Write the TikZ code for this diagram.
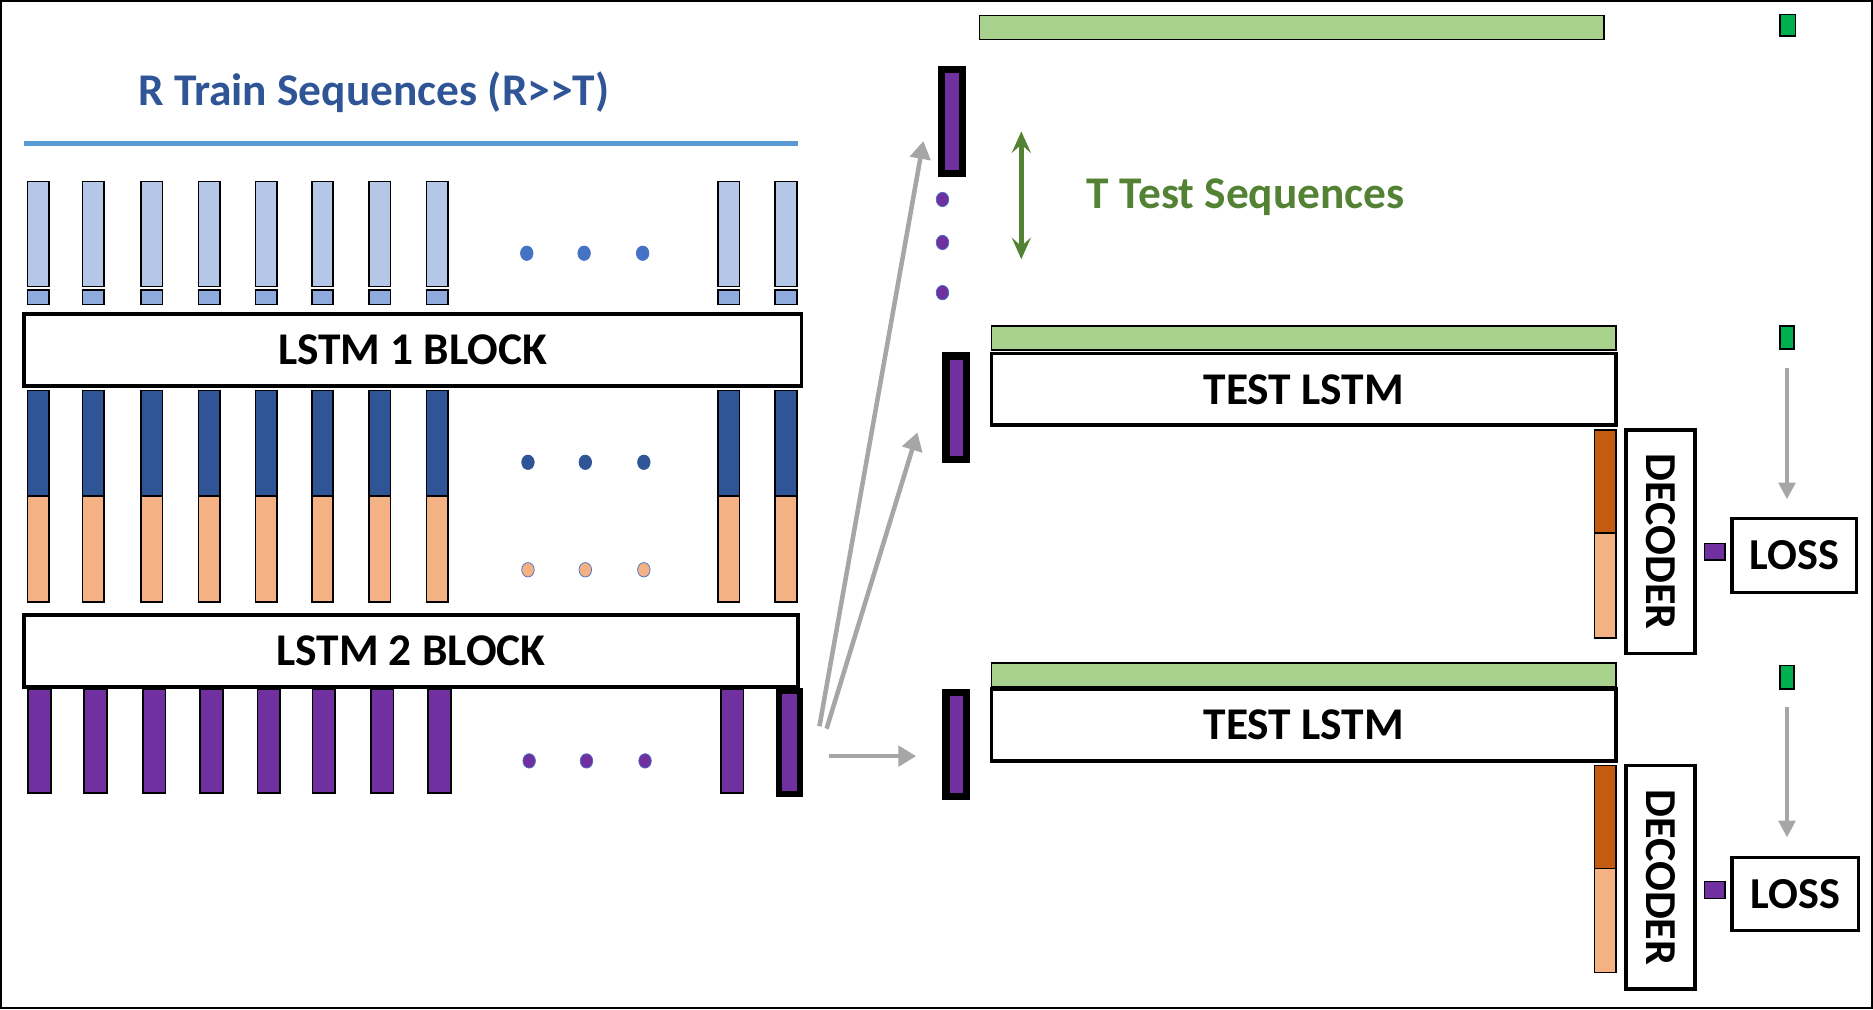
\documentclass[tikz,border=0pt]{standalone}
\usepackage{fontspec}
\setmainfont{Carlito}
\usetikzlibrary{arrows.meta}
\definecolor{clblue}{HTML}{B4C7E7}
\definecolor{cmblue}{HTML}{8FAADC}
\definecolor{cdblue}{HTML}{2F5597}
\definecolor{cpeach}{HTML}{F4B183}
\definecolor{cpurple}{HTML}{7030A0}
\definecolor{clgreen}{HTML}{A9D18E}
\definecolor{cgreen}{HTML}{00B050}
\definecolor{cdorange}{HTML}{C55A11}
\definecolor{cgrey}{HTML}{A6A6A6}
\definecolor{cdgreen}{HTML}{548235}
\definecolor{clineblue}{HTML}{5B9BD5}
\definecolor{cdot}{HTML}{4472C4}
\newcommand\mybox[7]{%
  \pgfmathsetmacro\bw{(#5)-(#3)}\pgfmathsetmacro\bh{(#6)-(#4)}%
  \pgfmathsetmacro\bcx{((#3)+(#5))/2}\pgfmathsetmacro\bcy{((#4)+(#6))/2}%
  \node[#2,minimum width=\bw pt,minimum height=\bh pt] (#1) at (\bcx,\bcy) {#7};}
\begin{document}
\begin{tikzpicture}[x=1pt,y=-1pt,
  tbar/.style={draw=black,line width=1.3pt,inner sep=0pt,outer sep=0pt},
  bigbox/.style={draw=black,line width=3pt,fill=white,inner sep=0pt,outer sep=0pt,
    font=\fontsize{38}{40}\selectfont\bfseries},
  tkbar/.style={draw=black,line width=6pt,fill=cpurple,inner sep=0pt,outer sep=0pt},
  dotn/.style={circle,inner sep=0pt,minimum size=10.5pt,yscale=1.15,draw=cdot,line width=0.6pt},
  garrow/.style={draw=cgrey,line width=3.8pt,-{Triangle[length=15pt,width=17pt]}},
  darrow/.style={draw=cgrey,line width=3pt,-{Triangle[length=14pt,width=14pt]}},
  lbl/.style={font=\fontsize{38}{40}\selectfont\bfseries,inner sep=0pt}
]
\useasboundingbox (0,0) rectangle (1568,845);
\draw[line width=2pt] (1,1) rectangle (1567,844);

% title and rule
\node[lbl,text=cdblue] (title) at (313,77) {R Train Sequences (R>{}>T)};
\coordinate (rulea) at (20,120);
\coordinate (ruleb) at (668,120);
\draw[clineblue,line width=4pt] (rulea) -- (ruleb);

% columns
\foreach \i/\x in {1/32,2/78,3/127,4/175,5/223,6/270,7/318,8/366,9/610,10/658}{
  \mybox{in\i}{tbar,fill=clblue}{\x-9}{152}{\x+9}{240}{}
  \mybox{sq\i}{tbar,fill=cmblue}{\x-9}{243}{\x+9}{255}{}
  \mybox{hb\i}{tbar,fill=cdblue}{\x-9}{327}{\x+9}{415}{}
  \mybox{hp\i}{tbar,fill=cpeach}{\x-9}{415}{\x+9}{504}{}
}
\foreach \i/\x in {1/33,2/80,3/129,4/177,5/225,6/271,7/320,8/368,9/613}{
  \mybox{pb\i}{tbar,fill=cpurple}{\x-9.5}{577}{\x+9.5}{664}{}
}
\mybox{pb10}{draw=black,line width=5pt,fill=cpurple,inner sep=0pt,outer sep=0pt}{652.5}{578.5}{669.5}{664.5}{}

% LSTM blocks
\mybox{lstma}{bigbox}{20}{263}{671}{323}{LSTM 1 BLOCK}
\mybox{lstmb}{bigbox}{20}{515}{668}{575}{LSTM 2 BLOCK}

% dots
\foreach \j/\x in {1/441,2/489,3/538}{
  \node[dotn,fill=cdot] (da\j) at (\x,212) {};
  \node[dotn,fill=cdblue,draw=cdblue] (db\j) at (\x+1,387) {};
  \node[dotn,fill=cpeach] (dc\j) at (\x+1,477) {};
  \node[dotn,fill=cpurple] (dd\j) at (\x+2,637) {};
}
\foreach \j/\y in {1/167,2/203,3/245}{
  \node[dotn,fill=cpurple] (dv\j) at (789,\y) {};
}

% right side: test sequences
\mybox{ga}{tbar,fill=clgreen}{820}{13}{1343}{33}{}
\mybox{gsa}{tbar,fill=cgreen}{1490}{12}{1503}{30}{}
\mybox{ta}{tkbar}{788}{58}{806}{145}{}
\coordinate (dblt) at (855,110);
\coordinate (dblb) at (855,217);
\draw[cdgreen,line width=4pt,{Stealth[length=18pt,width=16pt,inset=7pt]}-{Stealth[length=18pt,width=16pt,inset=7pt]}] (dblt) -- (dblb);
\node[lbl,text=cdgreen] (ttest) at (1043,165) {T Test Sequences};

% second block
\mybox{gb}{tbar,fill=clgreen}{830}{273}{1353}{293}{}
\mybox{tlb}{bigbox}{830}{296}{1353}{356}{TEST LSTM}
\mybox{tb}{tkbar}{792}{298}{809}{385}{}
\mybox{gsb}{tbar,fill=cgreen}{1490}{273}{1502}{292}{}
\mybox{deb1}{tbar,fill=cdorange}{1335}{360}{1353}{446}{}
\mybox{deb2}{tbar,fill=cpeach}{1335}{446}{1353}{534}{}
\node[bigbox,rotate=-90,minimum width=187pt,minimum height=58pt,font=\fontsize{37}{40}\selectfont\bfseries] (decb) at (1390,453.5) {DECODER};
\mybox{psb}{tbar,fill=cpurple}{1427}{455}{1444}{469}{}
\mybox{lossb}{bigbox,font=\fontsize{37}{40}\selectfont\bfseries}{1450}{434}{1554}{496}{LOSS}
\draw[darrow] (gsb.south) ++(0,16) coordinate (ab1) -- (1496,418) coordinate (ab2);

% third block
\mybox{gc}{tbar,fill=clgreen}{830}{555}{1353}{575}{}
\mybox{tlc}{bigbox}{830}{577}{1353}{637}{TEST LSTM}
\mybox{tc}{tkbar}{792}{580}{809}{667}{}
\mybox{gsc}{tbar,fill=cgreen}{1490}{557}{1502}{577}{}
\mybox{dec1}{tbar,fill=cdorange}{1335}{641}{1353}{727}{}
\mybox{dec2}{tbar,fill=cpeach}{1335}{727}{1353}{814}{}
\node[bigbox,rotate=-90,minimum width=187pt,minimum height=58pt,font=\fontsize{37}{40}\selectfont\bfseries] (decc) at (1390,734.5) {DECODER};
\mybox{psc}{tbar,fill=cpurple}{1427}{738}{1444}{752}{}
\mybox{lossc}{bigbox,font=\fontsize{37}{40}\selectfont\bfseries}{1450}{718}{1556}{779}{LOSS}
\draw[darrow] (gsc.south) ++(0,15) coordinate (ac1) -- (1496,701) coordinate (ac2);

% grey arrows from last encoding
\coordinate (s1) at (686,608);
\coordinate (e1) at (773,118);
\coordinate (s2) at (692,610);
\coordinate (e2) at (768,362);
\coordinate (s3) at (694,633);
\coordinate (e3) at (767,633);
\draw[garrow] (s1) -- (e1);
\draw[garrow] (s2) -- (e2);
\draw[garrow] (s3) -- (e3);
\end{tikzpicture}
\end{document}
